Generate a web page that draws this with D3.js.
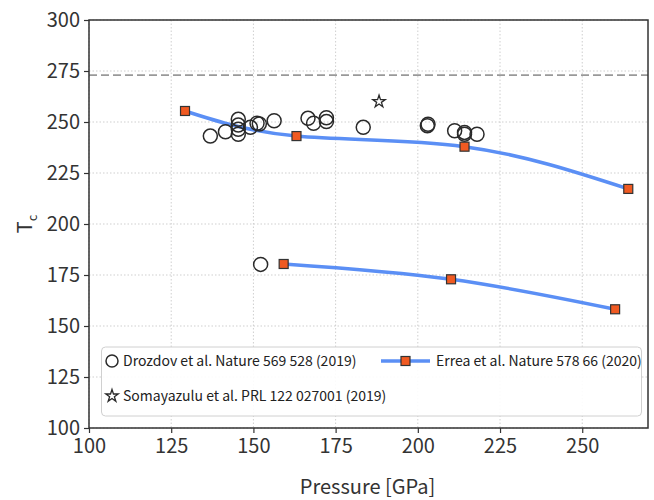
<!DOCTYPE html>
<html><head><meta charset="utf-8">
<script src="https://cdn.jsdelivr.net/npm/d3@7"></script>
<style>body{margin:0;background:#fff;} svg{display:block;}</style>
</head><body>
<svg id="c" width="654" height="500"></svg>
<script>
const xTicks = [100,125,150,175,200,225,250];
const yTicks = [100,125,150,175,200,225,250,275,300];
const drozdovP  = [136.9,141.5,145.4,145.4,145.4,145.4,149.1,151.1,151.8,156.3,166.6,168.3,172.2,172.2,183.4,203.1,202.9,211.2,214.2,214.2,218.0,152.2];
const drozdovTc = [243.1,245.2,251.3,248.5,246.4,244.0,247.4,249.4,249.0,250.6,251.8,249.4,252.1,250.2,247.4,248.9,248.2,245.7,244.9,244.0,244.0,180.2];
const errea1P  = [129.2,163.1,214.2,264.0];
const errea1Tc = [255.4,243.1,237.9,217.2];
const errea2P  = [159.2,210.1,260.0];
const errea2Tc = [180.4,172.9,158.2];
const somaP  = [188.2];
const somaTc = [260.0];
const roomT = 273;
const legendLabels = ["Drozdov et al. Nature 569 528 (2019)","Errea et al. Nature 578 66 (2020)","Somayazulu et al. PRL 122 027001 (2019)"];

const svg = d3.select("#c");
const L=89, R=648, T=20, B=428;
const x = d3.scaleLinear().domain([100,270]).range([L,R]);
const y = d3.scaleLinear().domain([100,300]).range([B,T]);
const font = "'Noto Sans CJK JP','Noto Sans',sans-serif";

// grid
const g = svg.append("g");
g.selectAll(".gx").data(xTicks).join("line")
  .attr("x1",d=>x(d)).attr("x2",d=>x(d)).attr("y1",T).attr("y2",B)
  .attr("stroke","#cfcfcf").attr("stroke-width",1).attr("stroke-dasharray","1.5,2");
g.selectAll(".gy").data(yTicks).join("line")
  .attr("y1",d=>y(d)).attr("y2",d=>y(d)).attr("x1",L).attr("x2",R)
  .attr("stroke","#cfcfcf").attr("stroke-width",1).attr("stroke-dasharray","1.5,2");

// room temperature dashed
svg.append("line").attr("x1",L).attr("x2",R).attr("y1",y(roomT)).attr("y2",y(roomT))
  .attr("stroke","#999").attr("stroke-width",1.6).attr("stroke-dasharray","8,4");

// axes
const xa = svg.append("g").attr("transform",`translate(0,${B})`)
  .call(d3.axisBottom(x).tickValues(xTicks).tickSize(5).tickPadding(6));
const ya = svg.append("g").attr("transform",`translate(${L},0)`)
  .call(d3.axisLeft(y).tickValues(yTicks).tickSize(5).tickPadding(4));
[xa,ya].forEach(a=>{
  a.select(".domain").remove();
  a.selectAll("line").attr("stroke","#333").attr("stroke-width",1.2);
  a.selectAll("text").attr("font-family",font).attr("font-size",20).attr("fill","#333");
});
// frame
svg.append("rect").attr("x",L).attr("y",T).attr("width",R-L).attr("height",B-T)
  .attr("fill","none").attr("stroke","#333").attr("stroke-width",1.5);

// curves
const line = d3.line().x(d=>x(d[0])).y(d=>y(d[1])).curve(d3.curveNatural);
[[errea1P,errea1Tc],[errea2P,errea2Tc]].forEach(([P,Tc])=>{
  const pts = P.map((p,i)=>[p,Tc[i]]);
  svg.append("path").attr("d",line(pts)).attr("fill","none")
    .attr("stroke","#5b8ff5").attr("stroke-width",3.5);
});

// circles
svg.selectAll(".dz").data(drozdovP.map((p,i)=>[p,drozdovTc[i]])).join("circle")
  .attr("cx",d=>x(d[0])).attr("cy",d=>y(d[1])).attr("r",7)
  .attr("fill","none").attr("stroke","#2a2a2a").attr("stroke-width",1.5);

// squares
[[errea1P,errea1Tc],[errea2P,errea2Tc]].forEach(([P,Tc])=>{
  svg.selectAll(null).data(P.map((p,i)=>[p,Tc[i]])).join("rect")
    .attr("x",d=>x(d[0])-4.5).attr("y",d=>y(d[1])-4.5).attr("width",9).attr("height",9)
    .attr("fill","#f05a22").attr("stroke","#333").attr("stroke-width",1.2);
});

// star
const star = d3.symbol().type(d3.symbolStar).size(48);
svg.selectAll(".st").data(somaP.map((p,i)=>[p,somaTc[i]])).join("path")
  .attr("d",star).attr("transform",d=>`translate(${x(d[0])},${y(d[1])})`)
  .attr("fill","none").attr("stroke","#2a2a2a").attr("stroke-width",1.3);

// legend
const lg = svg.append("g");
lg.append("rect").attr("x",101.5).attr("y",347).attr("width",540).attr("height",69).attr("rx",4)
  .attr("fill","#fff").attr("fill-opacity",0.9).attr("stroke","#d0d0d0").attr("stroke-width",1);
lg.append("circle").attr("cx",112).attr("cy",361).attr("r",6).attr("fill","none").attr("stroke","#2a2a2a").attr("stroke-width",1.5);
lg.append("text").attr("x",123).attr("y",366).text(legendLabels[0]);
lg.append("line").attr("x1",381).attr("x2",430).attr("y1",361).attr("y2",361).attr("stroke","#5b8ff5").attr("stroke-width",3.5);
lg.append("rect").attr("x",401).attr("y",356.5).attr("width",9).attr("height",9).attr("fill","#f05a22").attr("stroke","#333").attr("stroke-width",1.2);
lg.append("text").attr("x",436).attr("y",366).text(legendLabels[1]);
lg.append("path").attr("d",star).attr("transform","translate(112,396)").attr("fill","none").attr("stroke","#2a2a2a").attr("stroke-width",1.3);
lg.append("text").attr("x",123).attr("y",401).text(legendLabels[2]);
lg.selectAll("text").attr("font-family",font).attr("font-size",14).attr("fill","#222");

// axis labels
svg.append("text").attr("x",(L+R)/2-1).attr("y",494).attr("text-anchor","middle")
  .attr("font-family",font).attr("font-size",20).attr("fill","#333").text("Pressure [GPa]");
const yl = svg.append("text").attr("transform",`translate(32,${(T+B)/2}) rotate(-90)`)
  .attr("text-anchor","middle").attr("font-family",font).attr("font-size",20).attr("fill","#333");
yl.append("tspan").text("T");
yl.append("tspan").attr("font-size",13).attr("dy",5).text("c");
</script>
</body></html>
